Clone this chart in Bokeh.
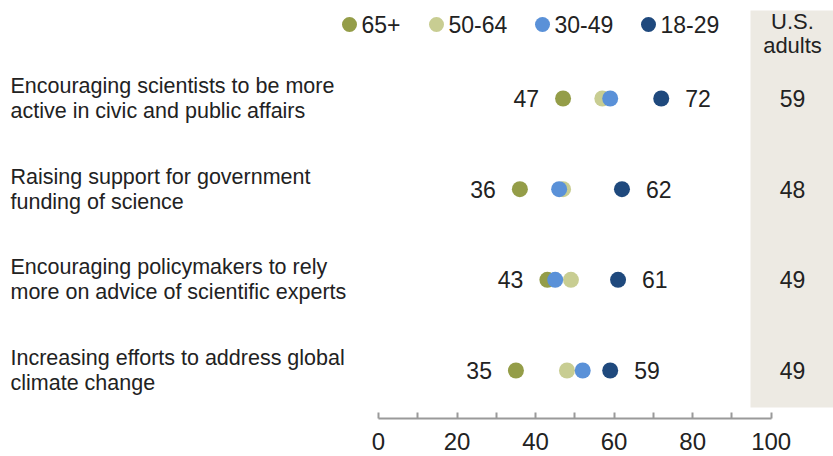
from bokeh.plotting import figure
from bokeh.models import Range1d, FixedTicker, LinearAxis
from bokeh.core.properties import value
from bokeh.embed import file_html
from bokeh.resources import INLINE

# ---------------- data ----------------
categories = [
    "Encouraging scientists to be more\nactive in civic and public affairs",
    "Raising support for government\nfunding of science",
    "Encouraging policymakers to rely\nmore on advice of scientific experts",
    "Increasing efforts to address global\nclimate change",
]
age_groups = ["65+", "50-64", "30-49", "18-29"]
age_colors = ["#949d48", "#c8cd92", "#5a91d8", "#1f497d"]
age_65 = [47, 36, 43, 35]
age_50 = [57, 47, 49, 48]
age_30 = [59, 46, 45, 52]
age_18 = [72, 62, 61, 59]
us_adults = [59, 48, 49, 49]
us_header = "U.S.\nadults"
major_ticks = [0, 20, 40, 60, 80, 100]
minor_ticks = [10, 30, 50, 70, 90]

# ---------------- layout ----------------
FONT = "Liberation Sans"
TXT = "#222222"
PX_PER_UNIT = 3.927
ROW_PX = 90.67
FIG_W, FIG_H = 833, 456
FRAME_H = 418
X0_PX = 378      # pixel of value 0
ROW0_PX = 98     # pixel of first row

x_start = -X0_PX / PX_PER_UNIT
x_end = (FIG_W - X0_PX) / PX_PER_UNIT
y_top = -ROW0_PX / ROW_PX
y_bottom = (FRAME_H - ROW0_PX) / ROW_PX


def fx(px):
    return (px - X0_PX) / PX_PER_UNIT


def fy(py):
    return (py - ROW0_PX) / ROW_PX


rows = list(range(len(categories)))

p = figure(
    width=FIG_W, height=FIG_H,
    x_range=Range1d(x_start, x_end), y_range=Range1d(y_bottom, y_top),
    output_backend="svg", toolbar_location=None,
    x_axis_location=None, y_axis_location=None,
    min_border_left=0, min_border_right=0, min_border_top=0,
    min_border_bottom=FIG_H - FRAME_H,
    outline_line_color=None,
    background_fill_color="white", border_fill_color="white",
)
p.grid.visible = False

# shaded "U.S. adults" column
p.quad(left=[fx(750)], right=[x_end + 5], top=[fy(10)], bottom=[fy(407)],
       fill_color="#edeae3", line_color=None)

# dots
for vals, col in zip([age_65, age_50, age_30, age_18], age_colors):
    p.scatter(x=vals, y=rows, size=16, fill_color=col, line_color=None)

# value labels (min on left, max on right)
p.text(x=age_65, y=rows, text=[str(v) for v in age_65], x_offset=-24,
       text_align="right", text_baseline="middle", text_font=value(FONT),
       text_font_size="23px", text_color=TXT)
p.text(x=age_18, y=rows, text=[str(v) for v in age_18], x_offset=24,
       text_align="left", text_baseline="middle", text_font=value(FONT),
       text_font_size="23px", text_color=TXT)

# category labels
p.text(x=[fx(10)] * len(rows), y=rows, text=categories,
       text_align="left", text_baseline="middle", text_font=value(FONT),
       text_font_size="21.5px", text_line_height=1.05, text_color=TXT)

# U.S. adults column
col_x = fx(792)
p.text(x=[col_x] * len(rows), y=rows, text=[str(v) for v in us_adults],
       text_align="center", text_baseline="middle", text_font=value(FONT),
       text_font_size="23px", text_color=TXT)
p.text(x=[col_x], y=[fy(33)], text=[us_header],
       text_align="center", text_baseline="middle", text_font=value(FONT),
       text_font_size="22px", text_line_height=0.93, text_color=TXT)

# legend
leg_px = [349, 436, 542, 648]
leg_x = [fx(v) for v in leg_px]
leg_y = [fy(24)] * len(age_groups)
p.scatter(x=leg_x, y=leg_y, size=15, fill_color=age_colors, line_color=None)
p.text(x=leg_x, y=leg_y, text=age_groups, x_offset=12,
       text_align="left", text_baseline="middle", text_font=value(FONT),
       text_font_size="23px", text_color=TXT)

# x axis
ax = LinearAxis(ticker=FixedTicker(ticks=major_ticks, minor_ticks=minor_ticks),
                bounds=(0, 100))
ax.axis_line_color = "#9a9a9a"
ax.axis_line_width = 2
ax.major_tick_in = 6
ax.major_tick_out = 0
ax.minor_tick_in = 6
ax.minor_tick_out = 0
ax.major_tick_line_color = "#9a9a9a"
ax.major_tick_line_width = 2
ax.minor_tick_line_color = "#9a9a9a"
ax.minor_tick_line_width = 2
ax.major_label_text_font = FONT
ax.major_label_text_font_size = "24px"
ax.major_label_text_color = TXT
ax.major_label_standoff = 14
p.add_layout(ax, "below")

open("out.html", "w").write(file_html(p, INLINE))
